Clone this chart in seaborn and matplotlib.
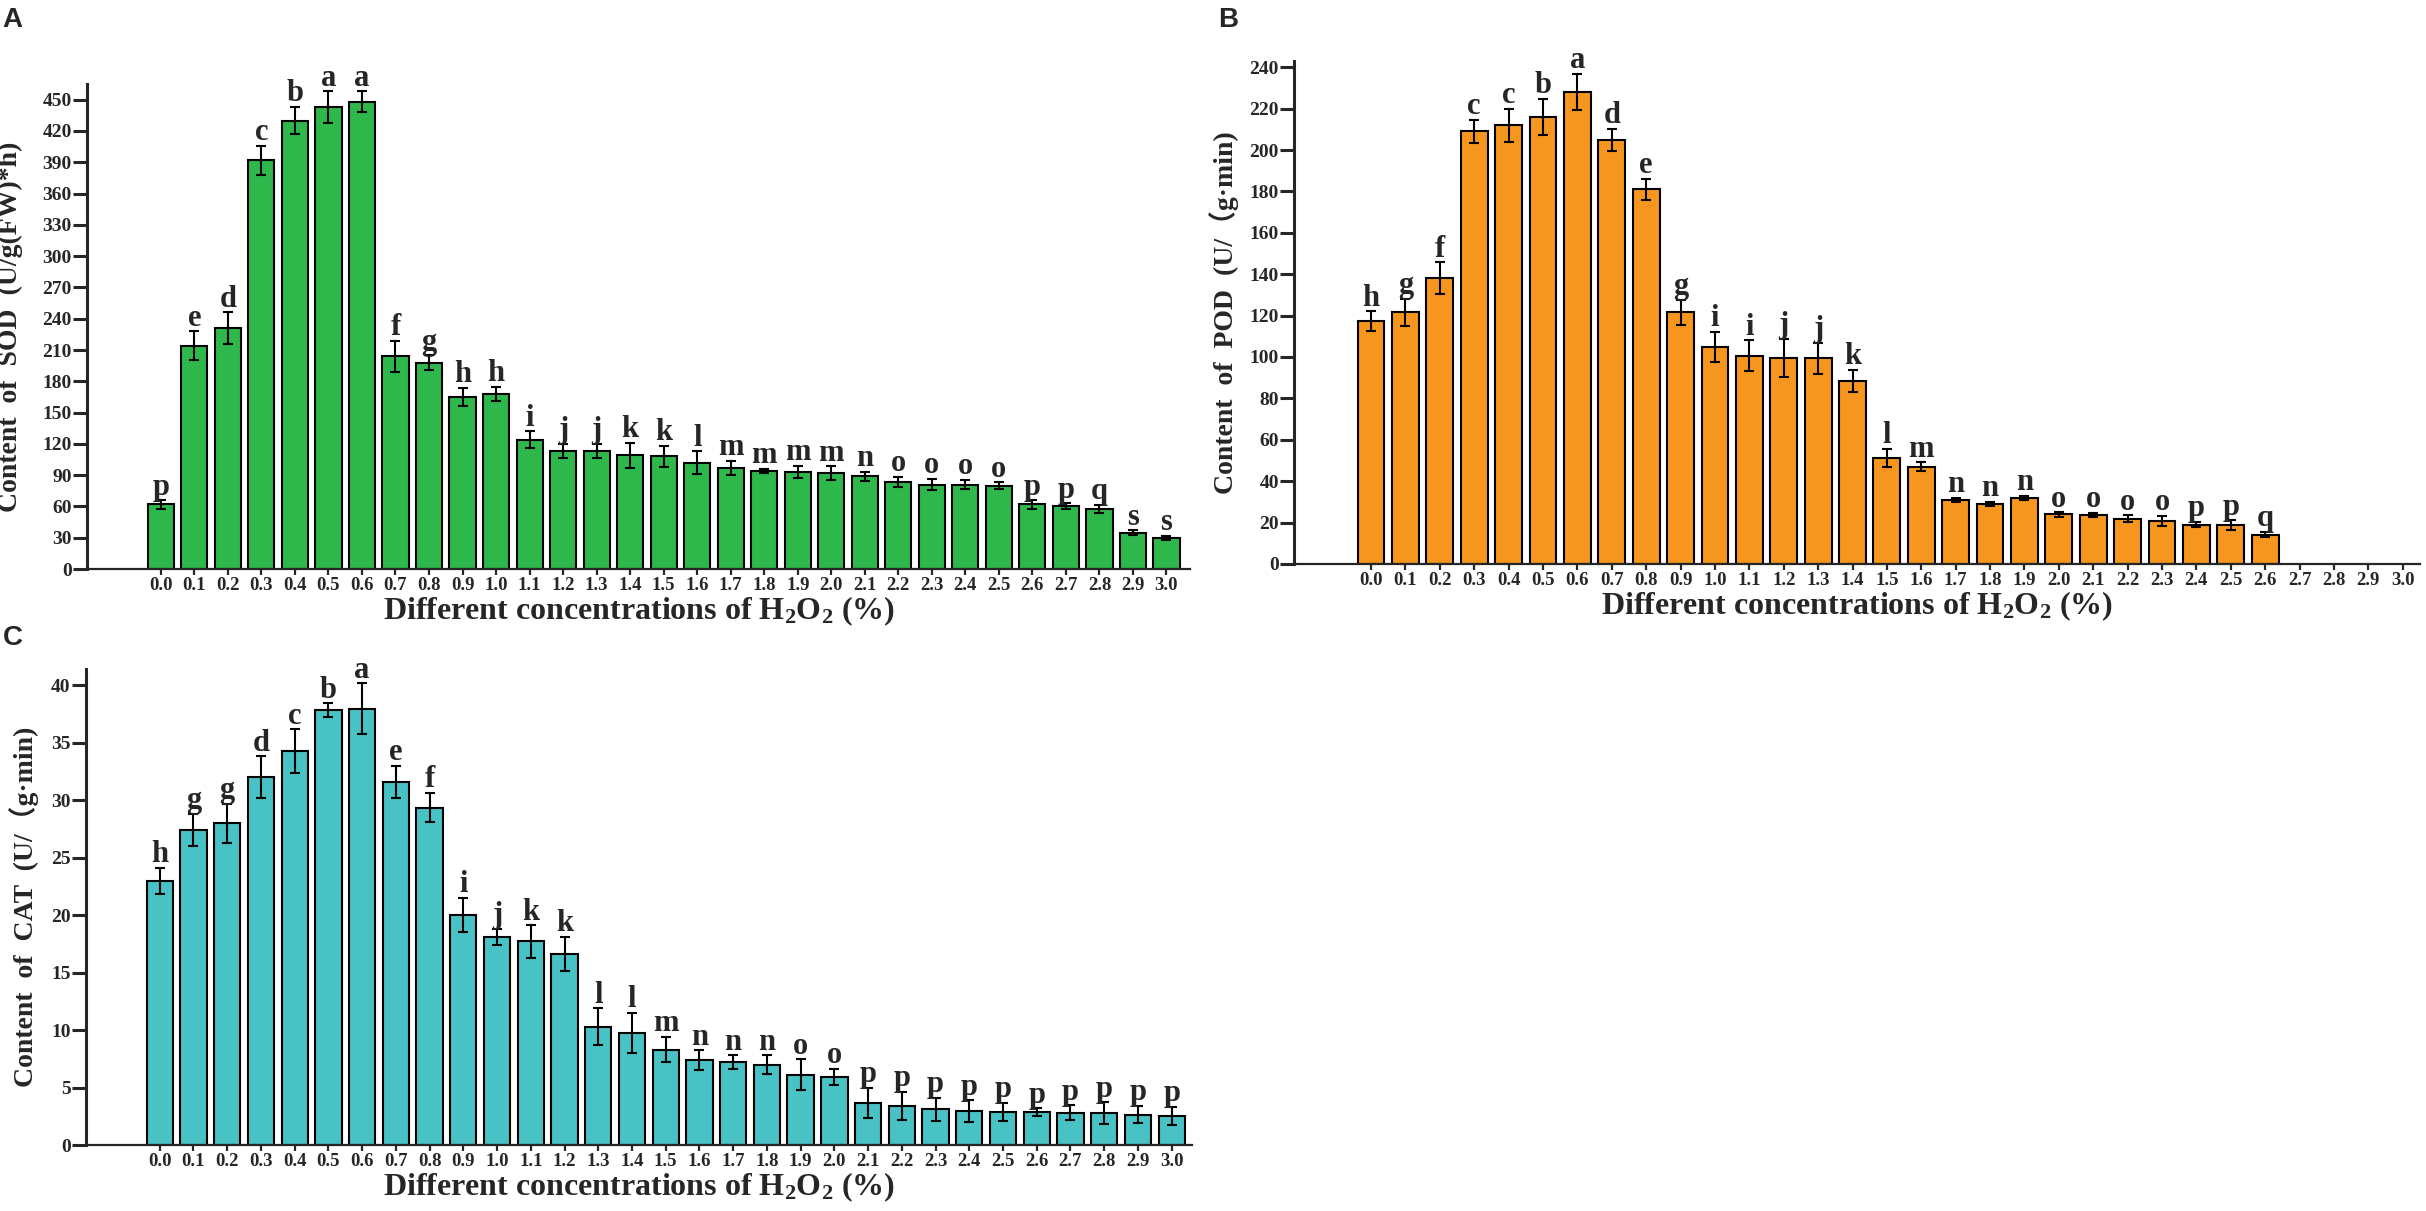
import numpy as np
import pandas as pd
import matplotlib
matplotlib.use('Agg')
import matplotlib.pyplot as plt
import seaborn as sns

sns.set_style('ticks')
plt.rcParams['font.family'] = ['Liberation Serif', 'Noto Sans CJK SC', 'DejaVu Sans']
plt.rcParams['font.weight'] = 'bold'
plt.rcParams['mathtext.fontset'] = 'custom'
plt.rcParams['mathtext.rm'] = 'Liberation Serif:bold'
plt.rcParams['mathtext.bf'] = 'Liberation Serif:bold'
plt.rcParams['mathtext.it'] = 'Liberation Serif:bold:italic'

# H2O2 concentrations (%)
conc = ['0.0', '0.1', '0.2', '0.3', '0.4', '0.5', '0.6', '0.7', '0.8', '0.9',
        '1.0', '1.1', '1.2', '1.3', '1.4', '1.5', '1.6', '1.7', '1.8', '1.9',
        '2.0', '2.1', '2.2', '2.3', '2.4', '2.5', '2.6', '2.7', '2.8', '2.9', '3.0']

# A: SOD
sod_mean = [62, 214, 231, 392, 430, 443, 448, 204, 198, 165,
            168, 124, 113, 113, 109, 108, 102, 97, 94, 93,
            92, 89, 83.5, 81, 81, 80, 62, 60.5, 57.5, 35, 30]
sod_err = [4, 14, 15, 14, 13, 15, 10, 15, 7, 9,
           7, 8, 7, 7, 12, 10, 11, 7, 2, 6,
           6.5, 4.5, 5, 5.5, 4.5, 3, 4, 2.5, 4, 2, 2]
sod_sig = ['p', 'e', 'd', 'c', 'b', 'a', 'a', 'f', 'g', 'h',
           'h', 'i', 'j', 'j', 'k', 'k', 'l', 'm', 'm', 'm',
           'm', 'n', 'o', 'o', 'o', 'o', 'p', 'p', 'q', 's', 's']

# B: POD (no bars from 2.7 on)
pod_mean = [117.4, 121.5, 138, 209, 212, 216, 228, 205, 181, 121.7,
            104.8, 100.7, 99.4, 99.3, 88.5, 51.3, 46.9, 30.9, 28.9, 32,
            23.9, 23.7, 21.9, 20.9, 19, 18.7, 14.1, np.nan, np.nan, np.nan, np.nan]
pod_err = [4.6, 6.5, 7.7, 5.6, 8, 8.7, 8.7, 5.4, 5, 6,
           7.4, 7.4, 9.3, 7.6, 5.2, 4.4, 2.2, 1.1, 1.1, 1,
           1.1, 1, 1.7, 2.4, 1.3, 2.4, 1.3, np.nan, np.nan, np.nan, np.nan]
pod_sig = ['h', 'g', 'f', 'c', 'c', 'b', 'a', 'd', 'e', 'g',
           'i', 'i', 'j', 'j', 'k', 'l', 'm', 'n', 'n', 'n',
           'o', 'o', 'o', 'o', 'p', 'p', 'q', '', '', '', '']

# C: CAT
cat_mean = [22.96, 27.4, 27.96, 32.0, 34.25, 37.8, 37.96, 31.6, 29.35, 20.0,
            18.1, 17.7, 16.6, 10.3, 9.73, 8.3, 7.38, 7.2, 7.0, 6.12,
            5.9, 3.67, 3.4, 3.13, 2.96, 2.89, 2.86, 2.82, 2.76, 2.65, 2.55]
cat_err = [1.15, 1.4, 1.7, 1.8, 1.9, 0.6, 2.2, 1.4, 1.3, 1.5,
           0.7, 1.4, 1.5, 1.6, 1.77, 1.1, 0.85, 0.6, 0.8, 1.33,
           0.7, 1.33, 1.2, 1.0, 0.92, 0.8, 0.34, 0.62, 0.95, 0.75, 0.78]
cat_sig = ['h', 'g', 'g', 'd', 'c', 'b', 'a', 'e', 'f', 'i',
           'j', 'k', 'k', 'l', 'l', 'm', 'n', 'n', 'n', 'o',
           'o', 'p', 'p', 'p', 'p', 'p', 'p', 'p', 'p', 'p', 'p']


def draw_panel(ax, mean, err, sig, color, ylabel, ylim, ystep, xlim, label_x):
    df = pd.DataFrame({'conc': conc, 'value': mean})
    sns.barplot(data=df, x='conc', y='value', order=conc, color=color, saturation=1,
                width=0.78, edgecolor='black', linewidth=1.5, errorbar=None, ax=ax)
    pos = np.arange(len(conc))
    ax.errorbar(pos, mean, yerr=err, fmt='none', ecolor='black',
                elinewidth=1.5, capsize=3.5, capthick=1.5, zorder=3)
    for x, m, e, s in zip(pos, mean, err, sig):
        if s:
            ax.annotate(s, (x, m + e), xytext=(0, -1), textcoords='offset points',
                        ha='center', va='bottom', fontsize=22, fontweight='bold')
    ax.set_xlim(*xlim)
    ax.set_ylim(*ylim)
    ax.set_yticks(np.arange(0, ylim[1] + 0.01, ystep))
    sns.despine(ax=ax)
    ax.spines['left'].set_linewidth(2.2)
    ax.spines['bottom'].set_linewidth(1.6)
    ax.tick_params(axis='y', direction='out', length=10, width=2.2, labelsize=14, pad=1)
    ax.tick_params(axis='x', direction='out', length=4, width=1.6, labelsize=13.5, pad=2)
    for t in ax.get_xticklabels() + ax.get_yticklabels():
        t.set_fontweight('bold')
    ax.set_xlabel(r'Different concentrations of $\mathbf{H_2O_2}$ (%)',
                  fontsize=23, fontweight='bold', labelpad=0)
    ax.set_ylabel(ylabel, fontsize=20, fontweight='bold')
    ax.yaxis.set_label_coords(label_x, 0.5)


fig = plt.figure(figsize=(24.26, 12.11), dpi=100)
axA = fig.add_axes([0.0359, 0.5301, 0.4546, 0.4005])
axB = fig.add_axes([0.5334, 0.5343, 0.4641, 0.4153])
axC = fig.add_axes([0.0354, 0.0545, 0.4559, 0.3931])

draw_panel(axA, sod_mean, sod_err, sod_sig, '#2EB84B',
           'Content  of  SOD  (U/g(FW)*h)', (0, 465), 30, (-2.2, 30.7), -0.058)
draw_panel(axB, pod_mean, pod_err, pod_sig, '#F7961E',
           'Content  of  POD  (U/（g·min)', (0, 243), 20, (-2.24, 30.5), -0.0485)
draw_panel(axC, cat_mean, cat_err, cat_sig, '#48C2C5',
           'Content  of  CAT  (U/（g·min)', (0, 41.4), 5, (-2.19, 30.6), -0.042)

for txt, x, y in [('A', 0.001, 0.994), ('B', 0.502, 0.994), ('C', 0.001, 0.484)]:
    fig.text(x, y, txt, family='Liberation Sans', fontweight='bold', fontsize=20,
             ha='left', va='top')

fig.savefig('out.png', dpi=100)
